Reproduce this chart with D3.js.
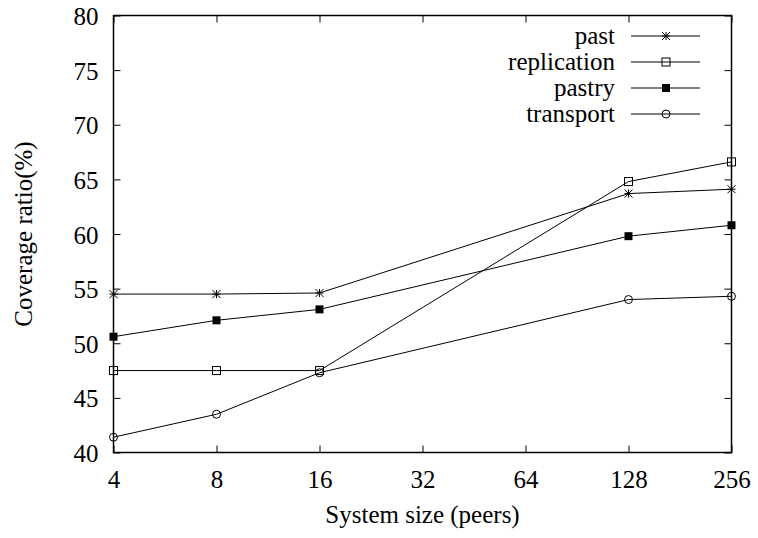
<!DOCTYPE html>
<html>
<head>
<meta charset="utf-8">
<script src="https://cdn.jsdelivr.net/npm/d3@7"></script>
<style>
  html, body { margin: 0; padding: 0; background: #fff; }
  svg text { font-family: "Liberation Serif", "Times New Roman", Times, "DejaVu Serif", serif !important; fill: #000; }
</style>
</head>
<body>
<svg id="chart" width="758" height="538"></svg>
<script>
const sizes = [4, 8, 16, 128, 256];
const xTicks = [4, 8, 16, 32, 64, 128, 256];
const yTicks = [40, 45, 50, 55, 60, 65, 70, 75, 80];
const seriesNames = ["past", "replication", "pastry", "transport"];
const past        = [54.5, 54.5, 54.6, 63.7, 64.1];
const replication = [47.5, 47.5, 47.5, 64.8, 66.6];
const pastry      = [50.6, 52.1, 53.1, 59.8, 60.8];
const transport   = [41.4, 43.5, 47.3, 54.0, 54.3];
const seriesValues = [past, replication, pastry, transport];
const markerTypes = ["star", "openSquare", "filledSquare", "circle"];

const FONT = '"Liberation Serif", "Times New Roman", Times, "DejaVu Serif", serif';
const svg = d3.select("#chart");
const L = 113.5, R = 731.5, T = 15.5, B = 452.5;

const x = d3.scaleLog().base(2).domain([4, 256]).range([L, R]);
const y = d3.scaleLinear().domain([40, 80]).range([B, T]);

const tickLen = 7;
const g = svg.append("g");

const axisStyle = sel => {
  sel.attr("font-family", FONT).attr("font-size", 25);
  sel.select(".domain").remove();
  sel.selectAll(".tick line").attr("stroke", "#000").attr("stroke-width", 1);
};

// bottom
g.append("g").attr("transform", `translate(0,${B})`)
  .call(d3.axisBottom(x).tickValues(xTicks).tickFormat(d3.format("d")).tickSizeInner(-tickLen).tickSizeOuter(0).tickPadding(0))
  .call(axisStyle)
  .call(s => s.selectAll(".tick text").attr("y", 35).attr("dy", 0));
// top
g.append("g").attr("transform", `translate(0,${T})`)
  .call(d3.axisTop(x).tickValues(xTicks).tickFormat("").tickSizeInner(-tickLen).tickSizeOuter(0))
  .call(axisStyle);
// left
g.append("g").attr("transform", `translate(${L},0)`)
  .call(d3.axisLeft(y).tickValues(yTicks).tickFormat(d3.format("d")).tickSizeInner(-tickLen).tickSizeOuter(0).tickPadding(0))
  .call(axisStyle)
  .call(s => s.selectAll(".tick text").attr("x", -15).attr("dy", 9));
// right
g.append("g").attr("transform", `translate(${R},0)`)
  .call(d3.axisRight(y).tickValues(yTicks).tickFormat("").tickSizeInner(-tickLen).tickSizeOuter(0))
  .call(axisStyle);

// frame
svg.append("rect").attr("x", L).attr("y", T).attr("width", R - L).attr("height", B - T)
  .attr("fill", "none").attr("stroke", "#000").attr("stroke-width", 1.5);

// axis titles
svg.append("text").attr("x", (L + R) / 2).attr("y", 523).attr("text-anchor", "middle")
  .attr("font-family", FONT).attr("font-size", 25).text("System size (peers)");
svg.append("text").attr("transform", `translate(32,${(T + B) / 2}) rotate(-90)`)
  .attr("text-anchor", "middle").attr("font-family", FONT).attr("font-size", 25).text("Coverage ratio(%)");

function drawMarker(sel, type, cx, cy) {
  if (type === "star") {
    const s = 4;
    const p = d3.path();
    p.moveTo(cx - s, cy); p.lineTo(cx + s, cy);
    p.moveTo(cx, cy - s); p.lineTo(cx, cy + s);
    p.moveTo(cx - s, cy - s); p.lineTo(cx + s, cy + s);
    p.moveTo(cx - s, cy + s); p.lineTo(cx + s, cy - s);
    sel.append("path").attr("d", p.toString()).attr("stroke", "#000").attr("stroke-width", 1).attr("fill", "none");
  } else if (type === "openSquare") {
    sel.append("rect").attr("x", cx - 4).attr("y", cy - 4).attr("width", 8).attr("height", 8)
      .attr("fill", "none").attr("stroke", "#000").attr("stroke-width", 1);
  } else if (type === "filledSquare") {
    sel.append("rect").attr("x", cx - 4).attr("y", cy - 4).attr("width", 8).attr("height", 8)
      .attr("fill", "#000").attr("stroke", "none");
  } else if (type === "circle") {
    sel.append("circle").attr("cx", cx).attr("cy", cy).attr("r", 4)
      .attr("fill", "none").attr("stroke", "#000").attr("stroke-width", 1);
  }
}

const line = d3.line().x(d => x(d[0])).y(d => y(d[1]));
const plot = svg.append("g");
seriesValues.forEach((vals, i) => {
  const pts = sizes.map((s, j) => [s, vals[j]]);
  plot.append("path").attr("d", line(pts)).attr("fill", "none").attr("stroke", "#000").attr("stroke-width", 1);
  const mg = plot.append("g");
  pts.forEach(p => drawMarker(mg, markerTypes[i], x(p[0]), y(p[1])));
});

// legend
const leg = svg.append("g");
seriesNames.forEach((name, i) => {
  const cy = 36 + i * 26;
  leg.append("text").attr("x", 615).attr("y", cy + 8).attr("text-anchor", "end")
    .attr("font-family", FONT).attr("font-size", 25).text(name);
  leg.append("line").attr("x1", 631).attr("x2", 700).attr("y1", cy).attr("y2", cy)
    .attr("stroke", "#000").attr("stroke-width", 1);
  drawMarker(leg, markerTypes[i], 666, cy);
});
</script>
</body>
</html>
